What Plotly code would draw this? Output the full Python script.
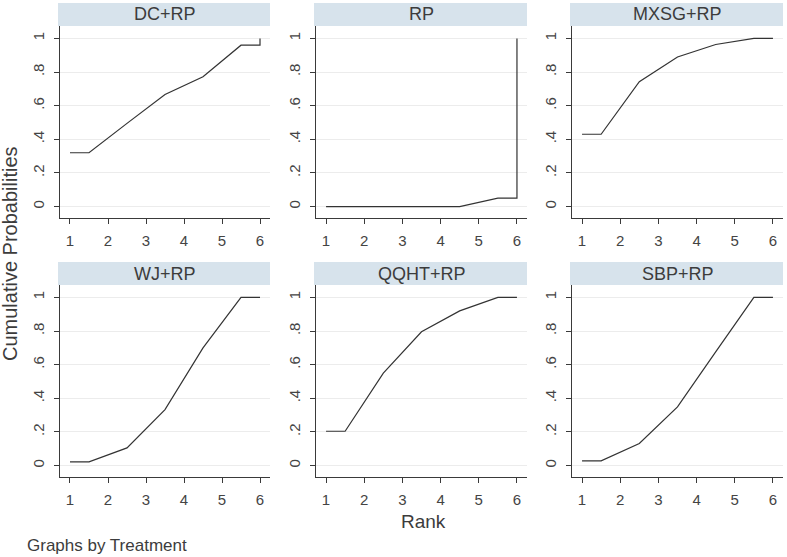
import plotly.graph_objects as go

W, H = 787, 557

treatments = ["DC+RP", "RP", "MXSG+RP", "WJ+RP", "QQHT+RP", "SBP+RP"]
ranks = [1, 2, 3, 4, 5, 6]
cum_dc = [0.32, 0.495, 0.667, 0.772, 0.96, 1.0]
cum_rp = [0.0, 0.0, 0.0, 0.0, 0.05, 1.0]
cum_mxsg = [0.43, 0.743, 0.89, 0.964, 1.0, 1.0]
cum_wj = [0.022, 0.105, 0.333, 0.70, 1.0, 1.0]
cum_qqht = [0.204, 0.55, 0.796, 0.92, 1.0, 1.0]
cum_sbp = [0.028, 0.131, 0.349, 0.676, 1.0, 1.0]
series = [cum_dc, cum_rp, cum_mxsg, cum_wj, cum_qqht, cum_sbp]

ytick_vals = [0, 0.2, 0.4, 0.6, 0.8, 1]
ytick_text = ["0", ".2", ".4", ".6", ".8", "1"]

FONT = "Liberation Sans, Arial, sans-serif"
TXT = "#3c3c3c"
AX = "#3a3a3a"
STRIP = "#d7e3ec"
GRID = "#ececec"

# panel geometry (pixels)
col_px = [(60, 270), (316, 527), (572, 783)]
row_px = [(26, 218), (285, 477)]
strip_h = 23


def step_path(r, c):
    xs = [r[0], r[0] + 0.5]
    ys = [c[0], c[0]]
    for i in range(1, len(r) - 1):
        xs.append(r[i] + 0.5)
        ys.append(c[i])
    xs += [r[-1], r[-1]]
    ys += [c[-2], c[-1]]
    return xs, ys


fig = go.Figure()
shapes = []
annotations = []
layout = {}
for k, (name, cum) in enumerate(zip(treatments, series)):
    row, col = divmod(k, 3)
    x0p, x1p = col_px[col]
    y0p, y1p = row_px[row]
    idx = "" if k == 0 else str(k + 1)
    xs, ys = step_path(ranks, cum)
    fig.add_trace(go.Scatter(x=xs, y=ys, mode="lines",
                             line=dict(color="#333333", width=1.2),
                             xaxis="x" + idx, yaxis="y" + idx,
                             showlegend=False, hoverinfo="skip"))
    layout["xaxis" + idx] = dict(
        domain=[x0p / W, x1p / W], anchor="y" + idx,
        range=[0.737, 6.263], tickvals=ranks, ticktext=[str(r) for r in ranks],
        ticks="outside", ticklen=5, tickcolor=AX, tickwidth=1,
        showline=True, linecolor=AX, linewidth=1, showgrid=False, zeroline=False,
        tickfont=dict(family=FONT, size=15, color="#444444"),
        ticklabelstandoff=4, fixedrange=True)
    layout["yaxis" + idx] = dict(
        domain=[1 - y1p / H, 1 - y0p / H], anchor="x" + idx,
        range=[-0.068, 1.074], tickvals=ytick_vals, ticktext=ytick_text,
        tickangle=-90, ticks="outside", ticklen=5, tickcolor=AX, tickwidth=1,
        showline=True, linecolor=AX, linewidth=1, showgrid=True,
        gridcolor=GRID, gridwidth=1, zeroline=False,
        tickfont=dict(family=FONT, size=15, color="#444444"),
        ticklabelstandoff=4, fixedrange=True)
    shapes.append(dict(type="rect", xref="paper", yref="paper",
                       x0=(x0p - 2) / W, x1=x1p / W,
                       y0=1 - y0p / H, y1=1 - (y0p - strip_h) / H,
                       fillcolor=STRIP, line=dict(width=0), layer="below"))
    annotations.append(dict(text=name, xref="paper", yref="paper",
                            x=(x0p + x1p) / 2 / W, y=1 - (y0p - strip_h / 2) / H,
                            showarrow=False, xanchor="center", yanchor="middle",
                            font=dict(family=FONT, size=18, color=TXT)))

annotations.append(dict(text="Cumulative Probabilities", xref="paper", yref="paper",
                        x=10 / W, y=1 - 254 / H, textangle=-90, showarrow=False,
                        xanchor="center", yanchor="middle",
                        font=dict(family=FONT, size=20, color=TXT)))
annotations.append(dict(text="Rank", xref="paper", yref="paper",
                        x=424 / W, y=1 - 521 / H, showarrow=False,
                        xanchor="center", yanchor="middle",
                        font=dict(family=FONT, size=19, color=TXT)))
annotations.append(dict(text="Graphs by Treatment", xref="paper", yref="paper",
                        x=25 / W, y=1 - 545 / H, showarrow=False,
                        xanchor="left", yanchor="middle",
                        font=dict(family=FONT, size=17, color=TXT)))

fig.update_layout(width=W, height=H, margin=dict(l=0, r=0, t=0, b=0),
                  paper_bgcolor="white", plot_bgcolor="white",
                  shapes=shapes, annotations=annotations, **layout)

fig.write_html("out.html", config={"displayModeBar": False},
               post_script="document.body.style.margin='0';document.body.style.overflow='hidden';")
